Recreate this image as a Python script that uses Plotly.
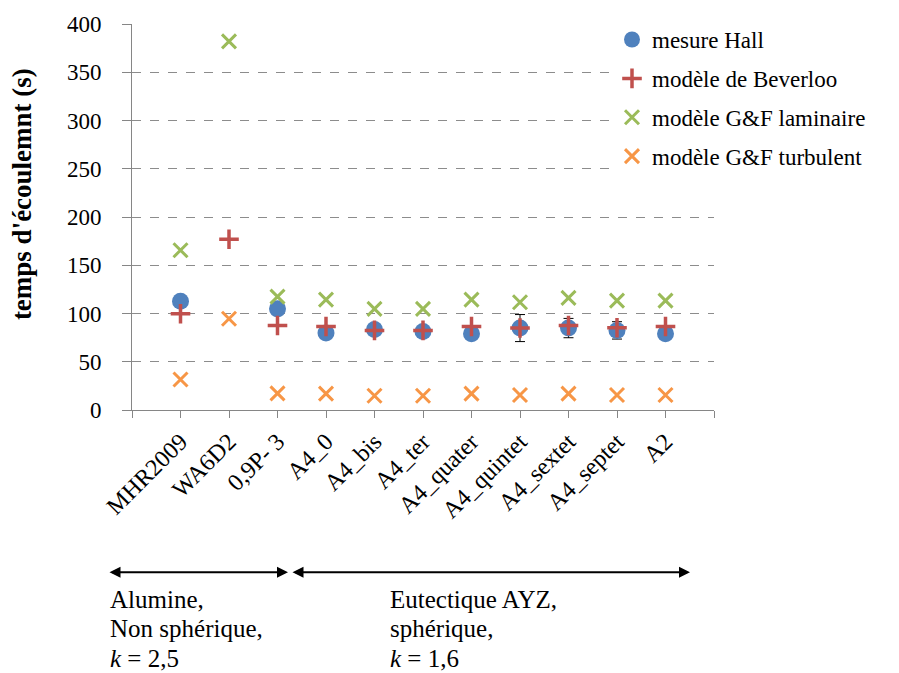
import plotly.graph_objects as go

categories = ["MHR2009", "WA6D2", "0,9P- 3", "A4_0", "A4_bis", "A4_ter",
              "A4_quater", "A4_quintet", "A4_sextet", "A4_septet", "A2"]
mesure_hall = [112.7, None, 104.8, 79.7, 83.5, 81.4, 79.0, 84.9, 84.9, 82.5, 79.0]
mesure_err = [0, 0, 0, 0, 0, 0, 0, 14, 10, 9, 0]
beverloo = [99.7, 177.0, 87.6, 86.6, 82.5, 82.5, 86.6, 84.9, 87.6, 85.2, 86.6]
gf_laminaire = [165.6, 382.0, 117.5, 114.4, 104.8, 104.8, 114.4, 111.7, 116.2, 113.4, 113.4]
gf_turbulent = [31.6, 94.5, 17.2, 17.0, 14.8, 14.8, 17.0, 15.5, 17.0, 15.5, 15.5]
y_ticks = [0, 50, 100, 150, 200, 250, 300, 350, 400]

FONT = "Liberation Serif"
xs = list(range(len(categories)))

# plot area geometry (pixels)
L, R, T, B = 132, 714, 22, 410
W, H = 899, 673


def px(x):
    return (x - L) / (R - L)


def py(y):
    return (B - y) / (B - T)


fig = go.Figure()
fig.add_trace(go.Scatter(
    x=xs, y=mesure_hall, mode="markers", name="mesure Hall", legendgroup="a",
    marker=dict(symbol="circle", size=17, color="#4F81BD"),
    error_y=dict(type="data", array=mesure_err, color="black", thickness=1, width=5),
))
fig.add_trace(go.Scatter(
    x=xs, y=beverloo, mode="markers", name="modèle de Beverloo", legendgroup="b",
    marker=dict(symbol="cross-thin", size=14, color="#C0504D",
                line=dict(width=3.5, color="#C0504D")),
))
fig.add_trace(go.Scatter(
    x=xs, y=gf_laminaire, mode="markers", name="modèle G&F laminaire", legendgroup="c",
    marker=dict(symbol="x-thin", size=14, color="#9BBB59",
                line=dict(width=3, color="#9BBB59")),
))
fig.add_trace(go.Scatter(
    x=xs, y=gf_turbulent, mode="markers", name="modèle G&F turbulent", legendgroup="d",
    marker=dict(symbol="x-thin", size=14, color="#F79646",
                line=dict(width=3, color="#F79646")),
))

annotations = [
    dict(text="<b>temps d'écoulemnt (s)</b>", xref="paper", yref="paper",
         x=px(22), y=py(193), xanchor="center", yanchor="middle",
         textangle=-90, showarrow=False,
         font=dict(family=FONT, size=27, color="black")),
]

lines = [
    ("Alumine,", 108, 600), ("Non sphérique,", 108, 630), ("<i>k</i> = 2,5", 108, 660),
    ("Eutectique AYZ,", 388, 600), ("sphérique,", 388, 630), ("<i>k</i> = 1,6", 388, 660),
]
for txt, x, y in lines:
    annotations.append(dict(text=txt, xref="paper", yref="paper", x=px(x), y=py(y),
                            xanchor="left", yanchor="middle", showarrow=False,
                            font=dict(family=FONT, size=25, color="black")))

for x0, x1 in [(108, 288), (291, 690)]:
    annotations.append(dict(text="", xref="paper", yref="paper", x=px(x1), y=py(573),
                            ax=x0 - x1, ay=0, showarrow=True, arrowside="end+start",
                            arrowhead=2, startarrowhead=2, arrowsize=1.1, startarrowsize=1.1,
                            arrowwidth=2, arrowcolor="black", standoff=0, startstandoff=0))

fig.update_layout(
    width=W, height=H,
    margin=dict(l=L, r=W - R, t=T, b=H - B),
    paper_bgcolor="white", plot_bgcolor="white",
    font=dict(family=FONT, size=23, color="black"),
    showlegend=True,
    legend=dict(x=px(612), y=py(16), xanchor="left", yanchor="top",
                bgcolor="white", font=dict(family=FONT, size=23, color="black"),
                tracegroupgap=6, itemwidth=30),
    annotations=annotations,
    xaxis=dict(
        range=[-1, len(categories)],
        tickmode="array",
        tickvals=list(range(-1, len(categories) + 1)),
        ticktext=[""] + categories + [""],
        tickangle=-45,
        showgrid=False, zeroline=False,
        showline=True, linecolor="#868686", linewidth=1,
        ticks="outside", ticklen=7, tickcolor="#868686",
        tickfont=dict(family=FONT, size=24, color="black"),
    ),
    yaxis=dict(
        range=[0, 400],
        tickmode="array", tickvals=y_ticks,
        showgrid=True, gridcolor="#8C8C8C", griddash="dash", gridwidth=1,
        zeroline=False,
        showline=True, linecolor="#868686", linewidth=1,
        ticks="outside", ticklen=9, tickcolor="#868686",
        ticklabelstandoff=16,
        tickfont=dict(family=FONT, size=23, color="black"),
    ),
)

fig.write_html("out.html", config={"displayModeBar": False},
               post_script="document.body.style.margin='0';")
